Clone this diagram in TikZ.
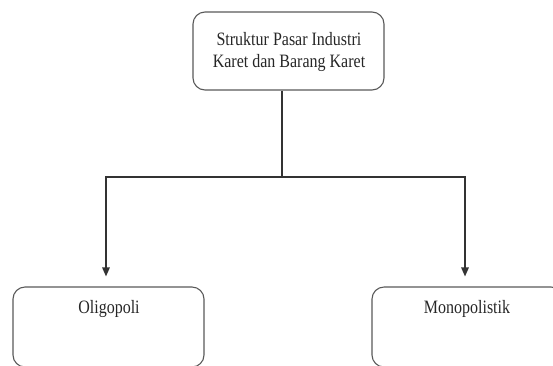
\documentclass[tikz,border=0pt]{standalone}
\usepackage{fontspec}
\setmainfont{Liberation Serif}
\usetikzlibrary{arrows.meta}
\newcommand{\tall}[1]{\scalebox{1}[1.18]{#1}}
\begin{document}
\begin{tikzpicture}[x=1pt,y=-1pt,
  box/.style={draw=black!65,line width=1.1pt,rounded corners=12pt,inner sep=0pt,
    minimum width=191pt,text=black!85},
  lbl/.style={font=\fontsize{16}{20}\selectfont,text=black!85,anchor=base},
  conn/.style={draw=black!80,line width=1.4pt},
  arr/.style={conn,-{Triangle[length=9pt,width=7.5pt]},shorten >=10pt}]
\useasboundingbox (0,0) rectangle (553,365);
\clip (0,0) rectangle (553,365);
\node[box,minimum height=78pt] (top) at (288.5,51) {};
\node[lbl] (t1) at (289,45) {\tall{Struktur Pasar Industri}};
\node[lbl] (t2) at (289,67) {\tall{Karet dan Barang Karet}};
\node[box,minimum height=80pt] (left) at (108.5,327) {};
\node[box,minimum height=80pt] (right) at (467.5,327) {};
\node[lbl] (ltext) at (109,313) {\tall{Oligopoli}};
\node[lbl] (rtext) at (467,313) {\tall{Monopolistik}};
\coordinate (j) at (282,177);
\draw[conn] (top.south -| j) -- (j);
\draw[arr] (j) -| ([xshift=-2.5pt]left.north);
\draw[arr] (j) -| ([xshift=-2.5pt]right.north);
\end{tikzpicture}
\end{document}
